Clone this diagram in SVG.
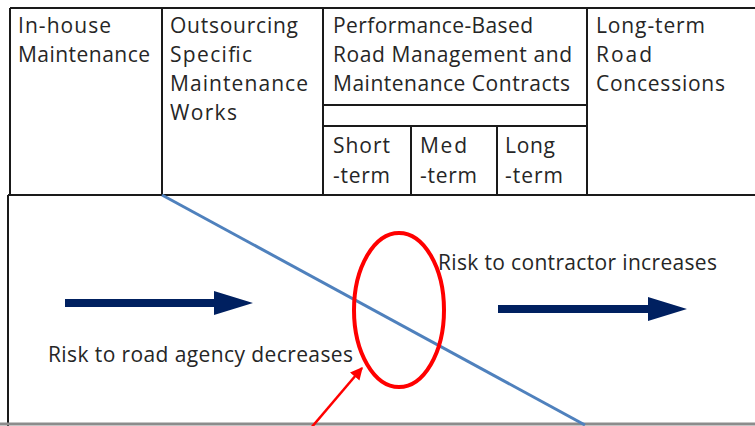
<svg xmlns="http://www.w3.org/2000/svg" width="755" height="426" viewBox="0 0 755 426">
  <defs>
    <style>
      .grid { stroke: #1a1a1a; stroke-width: 2; fill: none; }
      .lbl { font-family: "Open Sans", "Liberation Sans", sans-serif; font-size: 21px; fill: #262626; }
      .risk { font-family: "Open Sans", "Liberation Sans", sans-serif; font-size: 21px; fill: #262626; }
      .trend { fill: #002060; }
    </style>
    <marker id="redHead" viewBox="0 0 10 10" refX="9" refY="5" markerWidth="5" markerHeight="5" orient="auto" markerUnits="strokeWidth">
      <path d="M0,0 L10,5 L0,10 Z" fill="#ff0000"/>
    </marker>
  </defs>

  <rect width="755" height="426" fill="#ffffff"/>

  <!-- header table -->
  <g id="header-grid">
    <path class="grid" d="M10,8 H755 M10,8 V195 M162,8 V195 M323,8 V195 M587,8 V195 M323,105 H587 M323,126 H587 M411,126 V195 M497,126 V195 M8,195 H755"/>
  </g>

  <g id="col-inhouse">
    <text class="lbl" x="18" y="33" textLength="93">In-house</text>
    <text class="lbl" x="18" y="62" textLength="132">Maintenance</text>
  </g>

  <g id="col-outsourcing">
    <text class="lbl" x="170" y="33" textLength="128">Outsourcing</text>
    <text class="lbl" x="170" y="62" textLength="82">Specific</text>
    <text class="lbl" x="170" y="91" textLength="138">Maintenance</text>
    <text class="lbl" x="170" y="120" textLength="67">Works</text>
  </g>

  <g id="col-pbc">
    <text class="lbl" x="333" y="33" textLength="200">Performance-Based</text>
    <text class="lbl" x="333" y="62" textLength="239">Road Management and</text>
    <text class="lbl" x="333" y="91" textLength="237">Maintenance Contracts</text>
  </g>

  <g id="pbc-short">
    <text class="lbl" x="333" y="153" textLength="57">Short</text>
    <text class="lbl" x="333" y="183" textLength="57">-term</text>
  </g>

  <g id="pbc-med">
    <text class="lbl" x="420" y="153" textLength="47">Med</text>
    <text class="lbl" x="420" y="183" textLength="57">-term</text>
  </g>

  <g id="pbc-long">
    <text class="lbl" x="505" y="153" textLength="50">Long</text>
    <text class="lbl" x="505" y="183" textLength="58">-term</text>
  </g>

  <g id="col-concessions">
    <text class="lbl" x="596" y="33" textLength="109">Long-term</text>
    <text class="lbl" x="596" y="62" textLength="56">Road</text>
    <text class="lbl" x="596" y="91" textLength="129">Concessions</text>
  </g>

  <!-- risk panel -->
  <g id="risk-panel">
    <path d="M8,195 V426" stroke="#1a1a1a" stroke-width="2" fill="none"/>
    <path d="M0,424 H755" stroke="#8c8c8c" stroke-width="3" fill="none"/>
  </g>

  <g id="connectors">
    <!-- risk split line -->
    <line x1="162" y1="195" x2="585" y2="425" stroke="#4f81bd" stroke-width="3"/>
    <!-- agency arrow -->
    <path class="trend" d="M65,299 H214 V291 L253,303 L214,315 V307 H65 Z"/>
    <!-- contractor arrow -->
    <path class="trend" d="M498,305 H648 V297 L687,309 L648,321 V313 H498 Z"/>
    <!-- pointer to crossover -->
    <line x1="311" y1="428" x2="362" y2="368" stroke="#ff0000" stroke-width="2.5" marker-end="url(#redHead)"/>
  </g>

  <g id="crossover-ring">
    <ellipse cx="399" cy="310" rx="45" ry="77" fill="none" stroke="#ff0000" stroke-width="4"/>
  </g>

  <g id="risk-labels">
    <text class="risk" x="438" y="270" textLength="279">Risk to contractor increases</text>
    <text class="risk" x="48" y="362" textLength="305">Risk to road agency decreases</text>
  </g>
</svg>
